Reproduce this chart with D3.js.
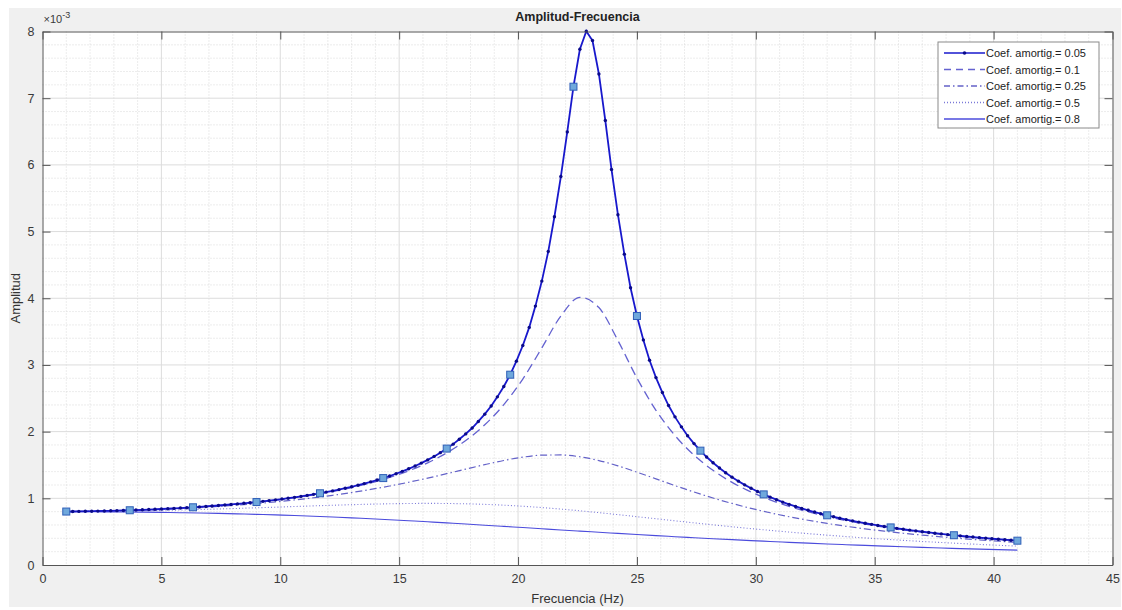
<!DOCTYPE html>
<html>
<head>
<meta charset="utf-8">
<script src="https://cdn.jsdelivr.net/npm/d3@7"></script>
<style>
  body { margin: 0; background: #ffffff; }
  svg { display: block; font-family: "Liberation Sans", Arial, sans-serif; }
</style>
</head>
<body>
<div id="chart"></div>
<script>
// amplitudes are in units of 1e-3 (the axis shows the x10^-3 factor)
var freq05 = [1.00,1.27,1.53,1.80,2.07,2.33,2.60,2.87,3.13,3.40,3.67,3.93,4.20,4.47,4.73,5.00,5.27,5.53,5.80,6.07,
  6.33,6.60,6.87,7.13,7.40,7.67,7.93,8.20,8.47,8.73,9.00,9.27,9.53,9.80,10.07,10.33,10.60,10.87,11.13,11.40,
  11.67,11.93,12.20,12.47,12.73,13.00,13.27,13.53,13.80,14.07,14.33,14.60,14.87,15.13,15.40,15.67,15.93,16.20,16.47,16.73,
  17.00,17.27,17.53,17.80,18.07,18.33,18.60,18.87,19.13,19.40,19.67,19.93,20.20,20.47,20.73,21.00,21.27,21.53,21.80,22.07,
  22.33,22.60,22.87,23.13,23.40,23.67,23.93,24.20,24.47,24.73,25.00,25.27,25.53,25.80,26.07,26.33,26.60,26.87,27.13,27.40,
  27.67,27.93,28.20,28.47,28.73,29.00,29.27,29.53,29.80,30.07,30.33,30.60,30.87,31.13,31.40,31.67,31.93,32.20,32.47,32.73,
  33.00,33.27,33.53,33.80,34.07,34.33,34.60,34.87,35.13,35.40,35.67,35.93,36.20,36.47,36.73,37.00,37.27,37.53,37.80,38.07,
  38.33,38.60,38.87,39.13,39.40,39.67,39.93,40.20,40.47,40.73,41.00];

var amp05 = [0.8015,0.8024,0.8036,0.8049,0.8065,0.8083,0.8103,0.8126,0.8151,0.8178,0.8208,0.8240,0.8275,0.8313,0.8353,0.8396,0.8441,0.8490,0.8542,0.8596,
  0.8654,0.8716,0.8780,0.8849,0.8921,0.8997,0.9077,0.9161,0.9249,0.9343,0.9441,0.9544,0.9653,0.9767,0.9887,1.0014,1.0147,1.0288,1.0435,1.0592,
  1.0756,1.0930,1.1113,1.1307,1.1512,1.1730,1.1960,1.2204,1.2463,1.2739,1.3033,1.3347,1.3682,1.4041,1.4425,1.4838,1.5283,1.5763,1.6282,1.6845,
  1.7457,1.8125,1.8856,1.9659,2.0544,2.1526,2.2619,2.3840,2.5213,2.6768,2.8537,3.0566,3.2907,3.5631,3.8820,4.2574,4.7004,5.2219,5.8246,6.4946,
  7.1723,7.7332,8.0036,7.8647,7.3627,6.6650,5.9317,5.2531,4.6615,4.1582,3.7336,3.3751,3.0705,2.8102,2.5859,2.3913,2.2212,2.0714,1.9388,1.8206,
  1.7147,1.6192,1.5330,1.4545,1.3830,1.3175,1.2573,1.2018,1.1506,1.1030,1.0589,1.0177,0.9793,0.9434,0.9097,0.8781,0.8483,0.8203,0.7938,0.7688,
  0.7451,0.7227,0.7014,0.6811,0.6619,0.6435,0.6260,0.6093,0.5934,0.5781,0.5636,0.5496,0.5362,0.5233,0.5110,0.4991,0.4877,0.4768,0.4662,0.4560,
  0.4462,0.4368,0.4276,0.4188,0.4103,0.4021,0.3941,0.3864,0.3790,0.3717,0.3647];

var freqCoarse = [1.0,1.8,2.6,3.4,4.2,5.0,5.8,6.6,7.4,8.2,9.0,9.8,10.6,11.4,12.2,13.0,13.8,14.6,15.4,16.2,
  17.0,17.8,18.6,19.4,20.2,21.0,21.8,22.6,23.4,24.2,25.0,25.8,26.6,27.4,28.2,29.0,29.8,30.6,31.4,32.2,
  33.0,33.8,34.6,35.4,36.2,37.0,37.8,38.6,39.4,40.2,41.0];

var amp10 = [0.8015,0.8048,0.8102,0.8175,0.8271,0.8389,0.8533,0.8703,0.8904,0.9138,0.9411,0.9727,1.0096,1.0524,1.1024,1.1610,1.2303,1.3127,1.4119,1.5325,
  1.6811,1.8670,2.1026,2.4042,2.7885,3.2556,3.7347,4.0129,3.8606,3.3659,2.8032,2.3201,1.9406,1.6476,1.4196,1.2395,1.0948,0.9765,0.8784,0.7960,
  0.7259,0.6656,0.6134,0.5677,0.5274,0.4917,0.4599,0.4314,0.4056,0.3823,0.3612];

var amp25 = [0.8013,0.8043,0.8091,0.8156,0.8240,0.8344,0.8468,0.8615,0.8786,0.8982,0.9208,0.9464,0.9754,1.0082,1.0451,1.0866,1.1329,1.1844,1.2412,1.3030,
  1.3690,1.4375,1.5052,1.5674,1.6172,1.6471,1.6501,1.6228,1.5663,1.4866,1.3922,1.2913,1.1905,1.0941,1.0047,0.9230,0.8492,0.7830,0.7238,0.6707,
  0.6232,0.5805,0.5421,0.5075,0.4762,0.4478,0.4220,0.3984,0.3768,0.3570,0.3388];

var amp50 = [0.8008,0.8025,0.8051,0.8087,0.8132,0.8187,0.8250,0.8321,0.8400,0.8486,0.8577,0.8671,0.8769,0.8865,0.8958,0.9045,0.9121,0.9181,0.9222,0.9238,
  0.9224,0.9176,0.9092,0.8970,0.8809,0.8613,0.8384,0.8127,0.7848,0.7552,0.7247,0.6937,0.6627,0.6321,0.6023,0.5734,0.5456,0.5191,0.4939,0.4701,
  0.4475,0.4262,0.4062,0.3873,0.3696,0.3529,0.3373,0.3226,0.3087,0.2957,0.2835];

var amp80 = [0.7996,0.7986,0.7971,0.7949,0.7922,0.7887,0.7846,0.7796,0.7738,0.7671,0.7595,0.7509,0.7413,0.7307,0.7191,0.7066,0.6931,0.6787,0.6635,0.6476,
  0.6311,0.6141,0.5968,0.5791,0.5613,0.5435,0.5257,0.5081,0.4907,0.4736,0.4568,0.4405,0.4246,0.4092,0.3943,0.3800,0.3661,0.3527,0.3399,0.3276,
  0.3158,0.3045,0.2937,0.2834,0.2734,0.2640,0.2549,0.2462,0.2379,0.2300,0.2224];

var legendLabels = ["Coef. amortig.= 0.05", "Coef. amortig.= 0.1", "Coef. amortig.= 0.25", "Coef. amortig.= 0.5", "Coef. amortig.= 0.8"];
var xTicks = [0, 5, 10, 15, 20, 25, 30, 35, 40, 45];
var yTicks = [0, 1, 2, 3, 4, 5, 6, 7, 8];

var W = 1122, H = 610;
var plot = { left: 42.5, right: 1112.5, top: 31.5, bottom: 565 };

var svg = d3.select('#chart').append('svg')
    .attr('width', W)
    .attr('height', H);

// figure background (MATLAB grey)
svg.append('rect')
    .attr('x', 9).attr('y', 8)
    .attr('width', 1112).attr('height', 599)
    .attr('fill', '#f0f0f0');

svg.append('rect')
    .attr('x', plot.left).attr('y', plot.top)
    .attr('width', plot.right - plot.left).attr('height', plot.bottom - plot.top)
    .attr('fill', '#ffffff');

var x = d3.scaleLinear().domain([0, 45]).range([plot.left, plot.right]);
var y = d3.scaleLinear().domain([0, 8]).range([plot.bottom, plot.top]);

// minor grid
var grid = svg.append('g');
grid.selectAll('.mx')
    .data(d3.range(1, 45).filter(function(d) { return d % 5 !== 0; }))
    .enter().append('line')
      .attr('x1', function(d) { return x(d); }).attr('x2', function(d) { return x(d); })
      .attr('y1', plot.top).attr('y2', plot.bottom)
      .attr('stroke', '#d0d0d0').attr('stroke-width', 0.8)
      .attr('stroke-dasharray', '1,2');
grid.selectAll('.my')
    .data(d3.range(1, 40).filter(function(d) { return d % 5 !== 0; }).map(function(d) { return d / 5; }))
    .enter().append('line')
      .attr('y1', function(d) { return y(d); }).attr('y2', function(d) { return y(d); })
      .attr('x1', plot.left).attr('x2', plot.right)
      .attr('stroke', '#d0d0d0').attr('stroke-width', 0.8)
      .attr('stroke-dasharray', '1,2');
// major grid
grid.selectAll('.gx')
    .data(xTicks.slice(1, -1))
    .enter().append('line')
      .attr('x1', function(d) { return x(d); }).attr('x2', function(d) { return x(d); })
      .attr('y1', plot.top).attr('y2', plot.bottom)
      .attr('stroke', '#dcdcdc').attr('stroke-width', 1);
grid.selectAll('.gy')
    .data(yTicks.slice(1, -1))
    .enter().append('line')
      .attr('y1', function(d) { return y(d); }).attr('y2', function(d) { return y(d); })
      .attr('x1', plot.left).attr('x2', plot.right)
      .attr('stroke', '#dcdcdc').attr('stroke-width', 1);

// curves
var coarse = function(vals) {
  return freqCoarse.map(function(f, i) { return [f, vals[i]]; });
};
var lineGen = d3.line()
    .x(function(d) { return x(d[0]); })
    .y(function(d) { return y(d[1]); })
    .curve(d3.curveMonotoneX);

var series = [
  { data: coarse(amp80), color: '#4b4bdc', width: 1.1, dash: null },
  { data: coarse(amp50), color: '#7a78d8', width: 1.1, dash: '1,2.2' },
  { data: coarse(amp25), color: '#6462c8', width: 1.2, dash: '7,3,1.5,3' },
  { data: coarse(amp10), color: '#6462d0', width: 1.3, dash: '9,5' }
];

svg.selectAll('.curve')
    .data(series)
    .enter().append('path')
      .attr('d', function(d) { return lineGen(d.data); })
      .attr('fill', 'none')
      .attr('stroke', function(d) { return d.color; })
      .attr('stroke-width', function(d) { return d.width; })
      .attr('stroke-dasharray', function(d) { return d.dash; });

var data05 = freq05.map(function(f, i) { return [f, amp05[i]]; });
svg.append('path')
    .attr('d', d3.line().x(function(d) { return x(d[0]); }).y(function(d) { return y(d[1]); })(data05))
    .attr('fill', 'none')
    .attr('stroke', '#1818cc')
    .attr('stroke-width', 1.8);

svg.append('g').selectAll('circle')
    .data(data05)
    .enter().append('circle')
      .attr('cx', function(d) { return x(d[0]); })
      .attr('cy', function(d) { return y(d[1]); })
      .attr('r', 1.7)
      .attr('fill', '#0a0a8a');

// square markers on every 10th point
var squares = data05.filter(function(d, i) { return i % 10 === 0; });
svg.append('g').selectAll('rect')
    .data(squares)
    .enter().append('rect')
      .attr('x', function(d) { return x(d[0]) - 3.5; })
      .attr('y', function(d) { return y(d[1]) - 3.5; })
      .attr('width', 7).attr('height', 7)
      .attr('fill', '#6fa8dc')
      .attr('stroke', '#2f5fb8')
      .attr('stroke-width', 1);

// axes with inward ticks on all sides
var axisColor = '#555555';
function styleAxis(g) {
  g.select('.domain').attr('stroke', axisColor).attr('stroke-width', 1);
  g.selectAll('.tick line').attr('stroke', axisColor);
  g.selectAll('.tick text').attr('fill', '#3a3a3a').style('font-size', '12.5px')
    .style('font-family', '"Liberation Sans", Arial, sans-serif');
}

svg.append('g')
    .attr('transform', 'translate(0,' + plot.bottom + ')')
    .call(d3.axisBottom(x).tickValues(xTicks).tickSizeInner(-8).tickSizeOuter(0).tickPadding(9))
    .call(styleAxis);
svg.append('g')
    .attr('transform', 'translate(0,' + plot.top + ')')
    .call(d3.axisTop(x).tickValues(xTicks).tickSizeInner(-8).tickSizeOuter(0).tickFormat(''))
    .call(styleAxis);
svg.append('g')
    .attr('transform', 'translate(' + plot.left + ',0)')
    .call(d3.axisLeft(y).tickValues(yTicks).tickSizeInner(-8).tickSizeOuter(0).tickPadding(8))
    .call(styleAxis);
svg.append('g')
    .attr('transform', 'translate(' + plot.right + ',0)')
    .call(d3.axisRight(y).tickValues(yTicks).tickSizeInner(-8).tickSizeOuter(0).tickFormat(''))
    .call(styleAxis);

// exponent label
var expo = svg.append('text')
    .attr('x', plot.left + 1).attr('y', plot.top - 9)
    .attr('fill', '#3a3a3a').style('font-size', '11px');
expo.append('tspan').text('\u00d710');
expo.append('tspan').attr('dy', -5).style('font-size', '9px').text('-3');

// title and axis labels
svg.append('text')
    .attr('x', (plot.left + plot.right) / 2).attr('y', 21)
    .attr('text-anchor', 'middle')
    .attr('fill', '#222')
    .style('font-size', '12.5px').style('font-weight', 'bold')
    .text('Amplitud-Frecuencia');

svg.append('text')
    .attr('x', (plot.left + plot.right) / 2).attr('y', 603)
    .attr('text-anchor', 'middle')
    .attr('fill', '#333')
    .style('font-size', '13px')
    .text('Frecuencia (Hz)');

svg.append('text')
    .attr('transform', 'translate(20,' + ((plot.top + plot.bottom) / 2) + ') rotate(-90)')
    .attr('text-anchor', 'middle')
    .attr('fill', '#333')
    .style('font-size', '13px')
    .text('Amplitud');

// legend
var legendStyles = [
  { color: '#1818cc', dash: null, dot: true },
  { color: '#6462d0', dash: '7,5', dot: false },
  { color: '#6462c8', dash: '6,3,1.5,3', dot: false },
  { color: '#7a78d8', dash: '1,2', dot: false },
  { color: '#4b4bdc', dash: null, dot: false }
];
var legend = svg.append('g').attr('transform', 'translate(938,42)');
legend.append('rect')
    .attr('width', 161).attr('height', 86)
    .attr('fill', '#ffffff')
    .attr('stroke', '#8a8a8a').attr('stroke-width', 1);
var rows = legend.selectAll('.row')
    .data(legendLabels)
    .enter().append('g')
      .attr('transform', function(d, i) { return 'translate(0,' + (11 + i * 16.5) + ')'; });
rows.append('line')
    .attr('x1', 6).attr('x2', 47)
    .attr('stroke', function(d, i) { return legendStyles[i].color; })
    .attr('stroke-width', 1.3)
    .attr('stroke-dasharray', function(d, i) { return legendStyles[i].dash; });
rows.filter(function(d, i) { return legendStyles[i].dot; })
    .append('circle')
      .attr('cx', 26.5).attr('cy', 0).attr('r', 1.8)
      .attr('fill', '#0a0a8a');
rows.append('text')
    .attr('x', 48).attr('y', 4)
    .attr('fill', '#222')
    .style('font-size', '11px')
    .text(function(d) { return d; });
</script>
</body>
</html>
